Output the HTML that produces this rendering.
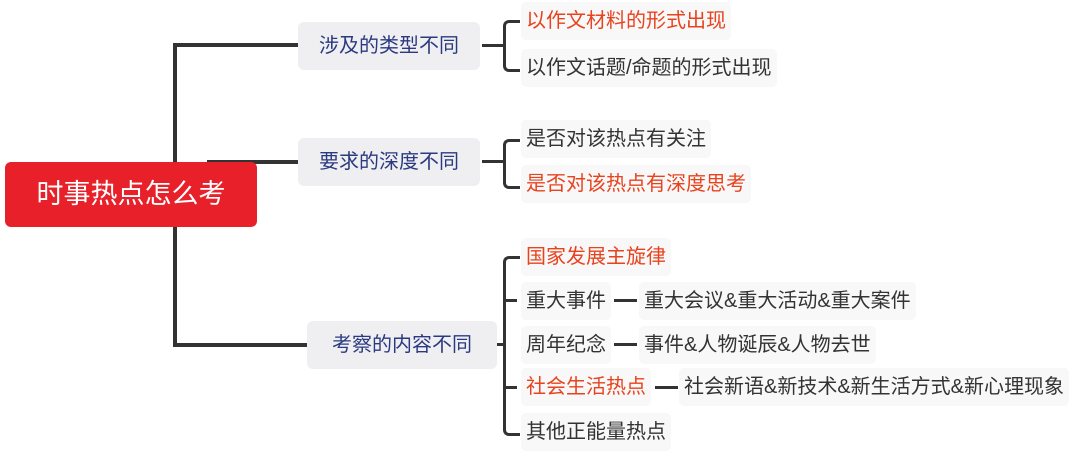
<!DOCTYPE html>
<html><head><meta charset="utf-8"><style>
body{margin:0;width:1080px;height:457px;background:#fff;position:relative;overflow:hidden;font-family:"Liberation Sans","Noto Sans CJK SC",sans-serif}
.a{position:absolute}
.ln{position:absolute;background:#333}
.root{left:5px;top:162px;width:252px;height:65px;background:#e8202a;border-radius:6px;color:#fff;font-size:27px;line-height:65px;text-align:center}
.l1{background:#efeff2;border-radius:6px;color:#2b3a80;font-size:20px;text-align:center;height:48px;line-height:48px}
.c{background:#f8f8f8;border-radius:5px;color:#333;font-size:20px;height:38px;line-height:38px;padding:0 5px;white-space:nowrap}
.o{color:#e8431f}
</style></head><body>
<div class="ln" style="left:173px;top:43px;width:4px;height:304px"></div>
<div class="ln" style="left:173px;top:43px;width:125px;height:4px"></div>
<div class="ln" style="left:207px;top:160px;width:91px;height:4px"></div>
<div class="ln" style="left:173px;top:343px;width:134px;height:4px"></div>
<div class="a root">时事热点怎么考</div>
<div class="a l1" style="left:298px;top:22px;width:182px">涉及的类型不同</div>
<div class="a l1" style="left:298px;top:138px;width:182px">要求的深度不同</div>
<div class="a l1" style="left:307px;top:321px;width:190px">考察的内容不同</div>
<div class="ln" style="left:482px;top:44px;width:22px;height:3px"></div>
<div class="a" style="left:503px;top:20px;width:14px;height:46px;border:3px solid #333;border-right:none;border-radius:6px 0 0 6px"></div>
<div class="a c o" style="left:521px;top:2px">以作文材料的形式出现</div>
<div class="a c" style="left:521px;top:49px">以作文话题/命题的形式出现</div>
<div class="ln" style="left:482px;top:160px;width:22px;height:3px"></div>
<div class="a" style="left:503px;top:139px;width:14px;height:44px;border:3px solid #333;border-right:none;border-radius:6px 0 0 6px"></div>
<div class="a c" style="left:521px;top:120px">是否对该热点有关注</div>
<div class="a c o" style="left:521px;top:165px">是否对该热点有深度思考</div>
<div class="ln" style="left:497px;top:343px;width:8px;height:3px"></div>
<div class="a" style="left:503px;top:256px;width:14px;height:174px;border:3px solid #333;border-right:none;border-radius:6px 0 0 6px"></div>
<div class="ln" style="left:503px;top:299px;width:14px;height:3px"></div>
<div class="ln" style="left:503px;top:386px;width:14px;height:3px"></div>
<div class="a c o" style="left:521px;top:238px">国家发展主旋律</div>
<div class="a c" style="left:521px;top:282px">重大事件</div>
<div class="ln" style="left:614px;top:299px;width:23px;height:3px"></div>
<div class="a c" style="left:639px;top:282px">重大会议&amp;重大活动&amp;重大案件</div>
<div class="a c" style="left:521px;top:326px">周年纪念</div>
<div class="ln" style="left:614px;top:343px;width:23px;height:3px"></div>
<div class="a c" style="left:639px;top:326px">事件&amp;人物诞辰&amp;人物去世</div>
<div class="a c o" style="left:521px;top:368px">社会生活热点</div>
<div class="ln" style="left:655px;top:386px;width:23px;height:3px"></div>
<div class="a c" style="left:679px;top:368px">社会新语&amp;新技术&amp;新生活方式&amp;新心理现象</div>
<div class="a c" style="left:521px;top:413px">其他正能量热点</div>
</body></html>
